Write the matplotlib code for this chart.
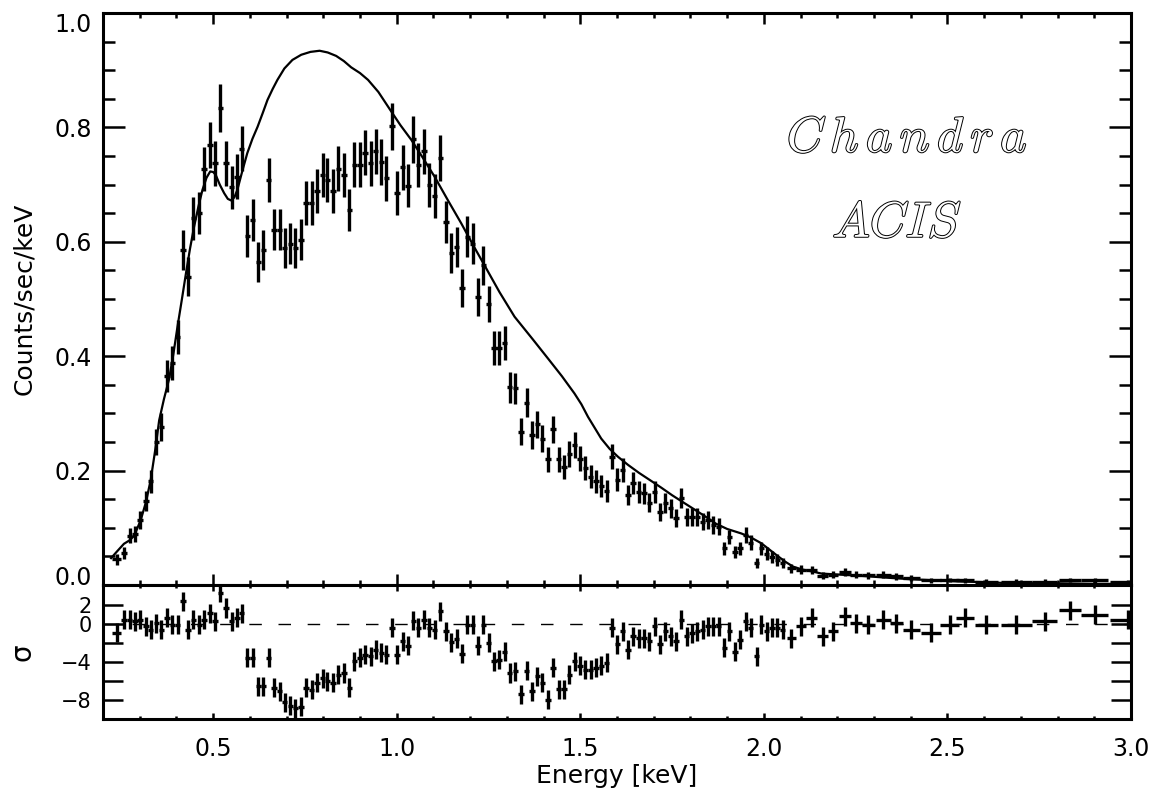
import matplotlib
matplotlib.use("Agg")
import matplotlib.pyplot as plt
import matplotlib.patheffects as pe
from matplotlib.ticker import MultipleLocator, FixedLocator, FixedFormatter

plt.rcParams['font.family'] = ['DejaVu Sans']
plt.rcParams['mathtext.fontset'] = 'cm'

# spectrum bins (keV), count rate and errors
energy = [0.237, 0.257, 0.273, 0.287, 0.301, 0.317, 0.330, 0.345, 0.359, 0.374,
          0.389, 0.403, 0.418, 0.432, 0.446, 0.462, 0.475, 0.491, 0.505, 0.520,
          0.535, 0.550, 0.565, 0.578, 0.593, 0.608, 0.623, 0.637, 0.651, 0.666,
          0.681, 0.695, 0.710, 0.724, 0.739, 0.753, 0.768, 0.783, 0.798, 0.811,
          0.826, 0.841, 0.856, 0.871, 0.885, 0.900, 0.914, 0.929, 0.943, 0.958,
          0.972, 0.987, 1.001, 1.016, 1.031, 1.045, 1.059, 1.074, 1.089, 1.103,
          1.119, 1.134, 1.149, 1.163, 1.178, 1.192, 1.207, 1.221, 1.236, 1.250,
          1.265, 1.279, 1.294, 1.308, 1.323, 1.339, 1.354, 1.368, 1.383, 1.397,
          1.412, 1.426, 1.441, 1.456, 1.470, 1.485, 1.499, 1.514, 1.528, 1.543,
          1.557, 1.572, 1.586, 1.601, 1.615, 1.630, 1.644, 1.659, 1.674, 1.688,
          1.703, 1.717, 1.732, 1.746, 1.761, 1.775, 1.790, 1.804, 1.819, 1.833,
          1.848, 1.862, 1.877, 1.892, 1.906, 1.921, 1.935, 1.950, 1.964, 1.980,
          1.993, 2.008, 2.022, 2.037, 2.051, 2.075, 2.102, 2.131, 2.161, 2.188,
          2.220, 2.250, 2.284, 2.325, 2.361, 2.402, 2.456, 2.506, 2.547, 2.606,
          2.688, 2.765, 2.833, 2.901, 2.992]

rate = [0.045, 0.056, 0.086, 0.089, 0.114, 0.147, 0.181, 0.250, 0.276, 0.365,
        0.388, 0.434, 0.586, 0.539, 0.641, 0.650, 0.727, 0.769, 0.737, 0.834,
        0.737, 0.695, 0.714, 0.763, 0.610, 0.638, 0.565, 0.586, 0.708, 0.621,
        0.621, 0.589, 0.597, 0.589, 0.604, 0.668, 0.668, 0.689, 0.717, 0.708,
        0.689, 0.728, 0.717, 0.656, 0.735, 0.735, 0.756, 0.737, 0.758, 0.740,
        0.711, 0.802, 0.685, 0.730, 0.698, 0.779, 0.734, 0.758, 0.699, 0.680,
        0.746, 0.635, 0.581, 0.591, 0.519, 0.609, 0.597, 0.503, 0.559, 0.491,
        0.414, 0.414, 0.423, 0.346, 0.344, 0.268, 0.319, 0.262, 0.281, 0.256,
        0.220, 0.272, 0.220, 0.206, 0.229, 0.245, 0.221, 0.204, 0.189, 0.181,
        0.173, 0.164, 0.224, 0.184, 0.201, 0.157, 0.178, 0.163, 0.160, 0.144,
        0.163, 0.128, 0.143, 0.134, 0.117, 0.152, 0.119, 0.119, 0.119, 0.111,
        0.114, 0.105, 0.102, 0.064, 0.084, 0.058, 0.064, 0.087, 0.074, 0.038,
        0.064, 0.055, 0.049, 0.044, 0.039, 0.029, 0.027, 0.026, 0.016, 0.018,
        0.022, 0.018, 0.017, 0.018, 0.015, 0.012, 0.008, 0.009, 0.008, 0.006,
        0.006, 0.006, 0.009, 0.008, 0.005]

rate_err = [0.010, 0.011, 0.013, 0.014, 0.016, 0.018, 0.020, 0.023, 0.024, 0.028,
            0.029, 0.030, 0.035, 0.034, 0.037, 0.037, 0.039, 0.040, 0.039, 0.042,
            0.039, 0.038, 0.039, 0.040, 0.036, 0.037, 0.035, 0.035, 0.039, 0.036,
            0.036, 0.035, 0.036, 0.035, 0.036, 0.038, 0.038, 0.038, 0.039, 0.039,
            0.038, 0.039, 0.039, 0.037, 0.039, 0.039, 0.040, 0.039, 0.040, 0.040,
            0.039, 0.041, 0.038, 0.039, 0.038, 0.041, 0.039, 0.040, 0.038, 0.038,
            0.040, 0.037, 0.035, 0.035, 0.033, 0.036, 0.036, 0.033, 0.034, 0.032,
            0.030, 0.030, 0.030, 0.027, 0.027, 0.024, 0.026, 0.024, 0.024, 0.023,
            0.022, 0.024, 0.022, 0.021, 0.022, 0.023, 0.022, 0.021, 0.020, 0.020,
            0.019, 0.019, 0.022, 0.020, 0.021, 0.018, 0.019, 0.019, 0.018, 0.017,
            0.019, 0.016, 0.017, 0.017, 0.016, 0.018, 0.016, 0.016, 0.016, 0.015,
            0.016, 0.015, 0.015, 0.012, 0.013, 0.011, 0.012, 0.014, 0.013, 0.009,
            0.012, 0.011, 0.010, 0.010, 0.009, 0.008, 0.008, 0.007, 0.006, 0.006,
            0.007, 0.006, 0.006, 0.006, 0.006, 0.005, 0.004, 0.004, 0.004, 0.004,
            0.004, 0.004, 0.004, 0.004, 0.003]

# bin half widths (keV)
bin_half = [0.012] + [0.0073] * 124 + [0.012, 0.014, 0.015, 0.015, 0.014,
            0.016, 0.016, 0.018, 0.020, 0.018, 0.022, 0.027, 0.025, 0.025, 0.032,
            0.041, 0.034, 0.030, 0.036, 0.050]

# residuals in sigma
resid = [-0.95, 0.45, 0.45, 0.28, 0.45, -0.25, -0.6, 0.1, -0.6, 0.63,
         -0.07, -0.07, 2.4, -0.6, 0.45, -0.07, 0.45, 1.15, 0.28, 3.26,
         1.68, 0.28, 0.63, 1.15, -3.58, -3.58, -6.56, -6.56, -3.58, -6.7,
         -7.1, -8.25, -8.6, -8.85, -8.7, -6.7, -6.9, -6.2, -5.7, -6.04,
         -6.2, -5.34, -5.16, -6.7, -3.93, -3.58, -3.23, -3.4, -2.7, -3.05,
         -3.23, -0.42, -3.23, -1.83, -2.3, 0.35, -0.42, 0.45, -0.42, -0.6,
         1.33, -0.77, -1.93, -1.58, -3.16, -0.07, -0.07, -2.3, -0.07, -2.0,
         -3.93, -3.75, -2.9, -5.16, -4.98, -7.4, -4.9, -7.1, -5.5, -6.2,
         -7.96, -4.63, -6.85, -6.85, -5.34, -3.93, -4.4, -4.8, -4.8, -4.63,
         -4.4, -4.1, -0.42, -2.16, -0.77, -2.7, -1.3, -1.5, -1.5, -1.83,
         -0.25, -2.16, -0.77, -1.3, -1.83, 0.45, -1.3, -1.0, -0.77, -0.6,
         -0.25, -0.25, -0.25, -2.5, -0.77, -2.9, -1.65, 0.28, -0.42, -3.4,
         -0.07, -0.77, -0.42, -0.42, -0.6, -1.5, -0.25, 0.63, -1.3, -0.77,
         0.8, 0.1, -0.07, 0.45, 0.1, -0.6, -0.95, -0.07, 0.63, -0.07,
         -0.07, 0.28, 1.44, 0.98, 0.45]

# folded model curve
model_e = [0.222, 0.240, 0.257, 0.272, 0.285, 0.294, 0.303, 0.317, 0.330, 0.342,
           0.353, 0.366, 0.380, 0.392, 0.403, 0.415, 0.426, 0.437, 0.448, 0.460,
           0.471, 0.482, 0.492, 0.500, 0.507, 0.518, 0.530, 0.540, 0.550, 0.558,
           0.566, 0.580, 0.593, 0.607, 0.621, 0.635, 0.648, 0.662, 0.675, 0.694,
           0.716, 0.740, 0.765, 0.790, 0.812, 0.835, 0.856, 0.876, 0.900, 0.922,
           0.950, 0.985, 1.010, 1.040, 1.070, 1.103, 1.140, 1.176, 1.210, 1.239,
           1.280, 1.321, 1.370, 1.412, 1.450, 1.484, 1.503, 1.521, 1.539, 1.557,
           1.580, 1.603, 1.630, 1.660, 1.693, 1.721, 1.750, 1.784, 1.811, 1.840,
           1.870, 1.900, 1.939, 1.965, 1.993, 2.015, 2.039, 2.060, 2.080, 2.105,
           2.129, 2.157, 2.210, 2.266, 2.330, 2.402, 2.470, 2.538, 2.600, 2.674,
           2.800, 2.900, 3.000]
model_y = [0.047, 0.060, 0.072, 0.078, 0.086, 0.100, 0.114, 0.145, 0.184, 0.235,
           0.288, 0.325, 0.360, 0.405, 0.452, 0.500, 0.545, 0.588, 0.626, 0.662,
           0.691, 0.712, 0.723, 0.722, 0.717, 0.700, 0.685, 0.675, 0.672, 0.678,
           0.691, 0.725, 0.755, 0.780, 0.801, 0.825, 0.848, 0.867, 0.883, 0.903,
           0.918, 0.927, 0.932, 0.934, 0.931, 0.925, 0.916, 0.905, 0.895, 0.883,
           0.862, 0.828, 0.804, 0.778, 0.748, 0.714, 0.672, 0.632, 0.592, 0.559,
           0.512, 0.469, 0.430, 0.396, 0.365, 0.335, 0.316, 0.294, 0.275, 0.256,
           0.238, 0.224, 0.210, 0.196, 0.182, 0.170, 0.157, 0.143, 0.132, 0.120,
           0.107, 0.098, 0.090, 0.083, 0.073, 0.062, 0.050, 0.040, 0.032, 0.027,
           0.024, 0.020, 0.018, 0.016, 0.013, 0.010, 0.008, 0.006, 0.005, 0.003,
           0.003, 0.002, 0.002]

xticks = [0.5, 1.0, 1.5, 2.0, 2.5, 3.0]
xtick_labels = ['0.5', '1.0', '1.5', '2.0', '2.5', '3.0']
yticks = [0.0, 0.2, 0.4, 0.6, 0.8, 1.0]
ytick_labels = ['0.0', '0.2', '0.4', '0.6', '0.8', '1.0']
rticks = [2, 0, -2, -4, -6, -8]
rtick_labels = ['2', '0', '', '\u22124', '', '\u22128']

W, H = 1159, 796
fig = plt.figure(figsize=(W / 100, H / 100), dpi=100)
ax = fig.add_axes([103 / W, 1 - 585 / H, 1028 / W, 572 / H])
ax2 = fig.add_axes([103 / W, 1 - 719 / H, 1028 / W, 134 / H])

ax.plot(model_e, model_y, color='black', lw=1.6)
ax.errorbar(energy, rate, yerr=rate_err, xerr=bin_half, fmt='none',
            ecolor='black', elinewidth=2.4, capsize=0)

ax2.axhline(0, color='black', lw=1.0, ls=(0, (9, 12)))
ax2.errorbar(energy, resid, yerr=1.0, xerr=bin_half, fmt='none',
             ecolor='black', elinewidth=2.4, capsize=0)

ax.set_yticks(yticks)
ax.set_yticklabels(ytick_labels)
for a in (ax, ax2):
    a.set_xlim(0.2, 3.0)
    for s in a.spines.values():
        s.set_linewidth(2.2)
    a.xaxis.set_minor_locator(MultipleLocator(0.1))

ax.set_ylim(0.0, 1.0)
ax.set_xticks(xticks)
ax.set_xticklabels([])
ax.yaxis.set_minor_locator(MultipleLocator(0.05))
ax.tick_params(axis='x', which='major', direction='in', top=True, length=8, width=1.8)
ax.tick_params(axis='x', which='minor', direction='in', top=True, length=3.5, width=1.8)
ax.tick_params(axis='y', which='major', direction='in', right=True, length=16, width=1.8,
               labelsize=17, pad=8)
ax.tick_params(axis='y', which='minor', direction='in', right=True, length=8.5, width=1.8)
# end labels sit inside the frame, as in the original
labels = ax.get_yticklabels()
labels[0].set_verticalalignment('baseline')
labels[-1].set_verticalalignment('top')
ax.set_ylabel('Counts/sec/keV', fontsize=18, labelpad=13)

ax2.set_ylim(-10, 4.1)
ax2.set_xticks(xticks)
ax2.set_xticklabels(xtick_labels)
ax2.yaxis.set_major_locator(FixedLocator(rticks))
ax2.yaxis.set_major_formatter(FixedFormatter(rtick_labels))
ax2.tick_params(axis='x', which='major', direction='in', top=True, length=4, width=1.8,
                labelsize=17, pad=13)
ax2.tick_params(axis='x', which='minor', direction='in', top=True, length=2.5, width=1.8)
ax2.tick_params(axis='y', which='major', direction='in', right=True, length=14.5, width=1.8,
                labelsize=15, pad=8)
ax2.set_xlabel('Energy [keV]', fontsize=18, labelpad=2)
ax2.set_ylabel('\u03c3', fontsize=20, labelpad=18)

outline = [pe.Stroke(linewidth=1.4, foreground='black'), pe.Normal()]
fig.text(907 / W, 1 - 138 / H, r'$\mathit{C\,h\,a\,n\,d\,r\,a}$', fontsize=36,
         ha='center', va='center', color='white', path_effects=outline)
fig.text(897 / W, 1 - 223 / H, r'$\mathit{ACIS}$', fontsize=36,
         ha='center', va='center', color='white', path_effects=outline)

fig.savefig('out.png', dpi=100)
